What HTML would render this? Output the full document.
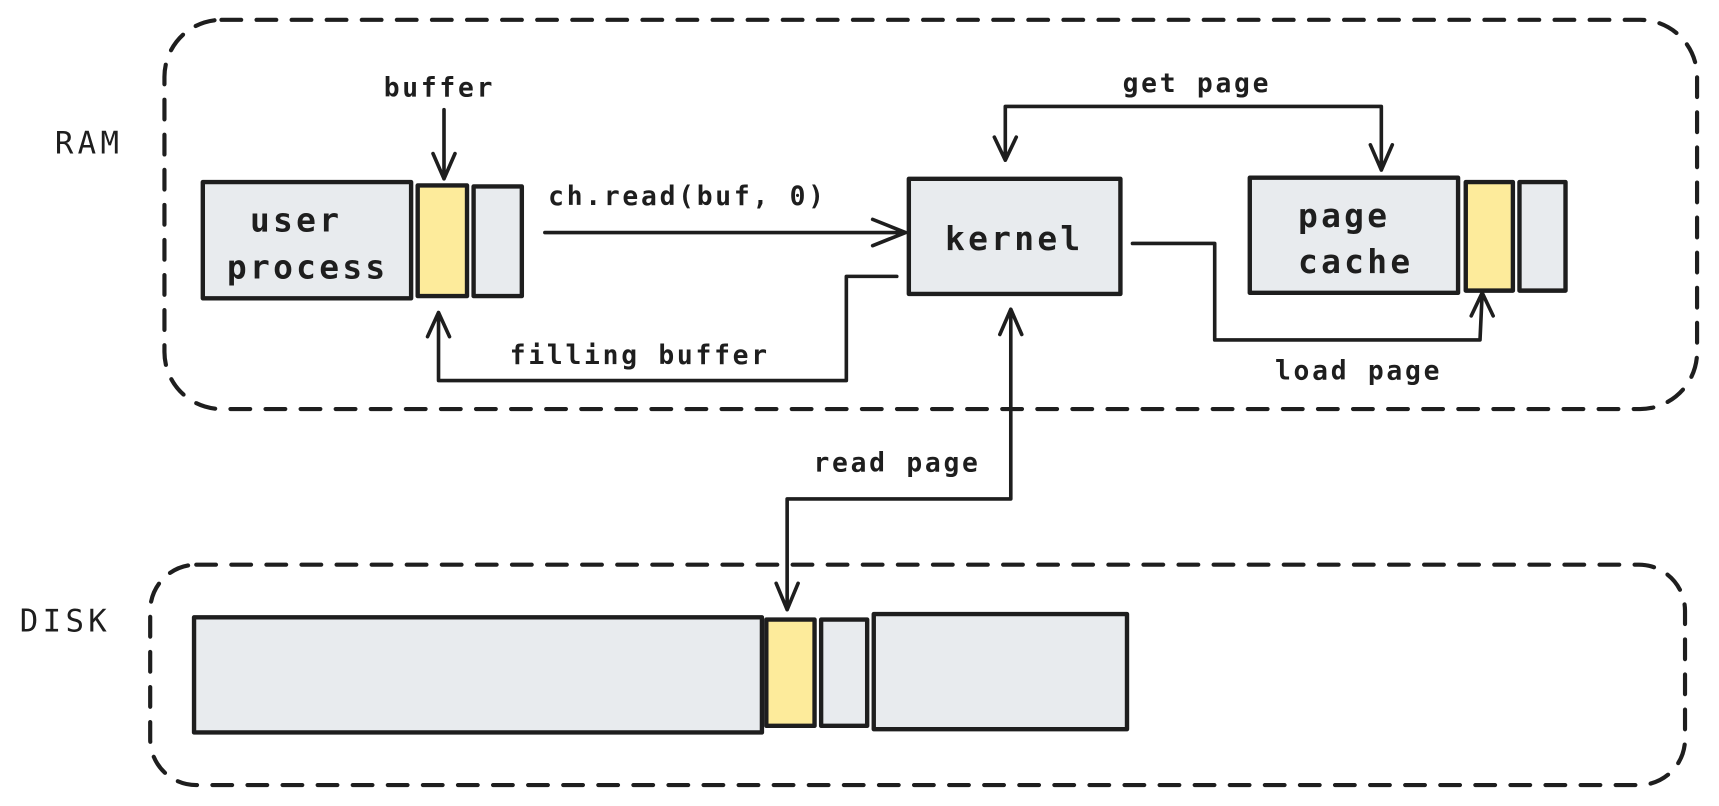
<!DOCTYPE html>
<html><head><meta charset="utf-8"><style>
html,body{margin:0;padding:0;background:#fff;width:1719px;height:806px;overflow:hidden}
svg{display:block}
.m{font-family:"DejaVu Sans Mono",monospace;font-size:24px;font-weight:bold;fill:#1e1e1e;letter-spacing:2.5px}
.b{font-family:"DejaVu Sans Mono",monospace;font-size:30px;font-weight:bold;fill:#1e1e1e;letter-spacing:3px}
</style></head><body>
<svg width="1719" height="806" viewBox="0 0 1568 735" xmlns="http://www.w3.org/2000/svg">
<g fill="none" stroke="#1e1e1e" stroke-width="3.8" stroke-dasharray="18 14" stroke-linecap="round">
<rect x="150" y="18" width="1398" height="355" rx="52"/>
<rect x="137" y="515" width="1400" height="201" rx="42"/>
</g>
<text x="50" y="140" style="font-family:'DejaVu Sans Mono',monospace;font-size:28px;fill:#1e1e1e;letter-spacing:4px">RAM</text>
<text x="18" y="576" style="font-family:'DejaVu Sans Mono',monospace;font-size:28px;fill:#1e1e1e;letter-spacing:4px">DISK</text>
<g stroke="#1e1e1e" stroke-width="4" stroke-linejoin="round">
<rect x="185" y="166" width="190" height="106" fill="#e8ebee"/>
<rect x="381" y="169" width="45" height="101" fill="#fdeb9b"/>
<rect x="432" y="170" width="44" height="100" fill="#e8ebee"/>
<rect x="829" y="163" width="193" height="105" fill="#e8ebee"/>
<rect x="1140" y="162" width="190" height="105" fill="#e8ebee"/>
<rect x="1337" y="166" width="43" height="99" fill="#fdeb9b"/>
<rect x="1386" y="166" width="42" height="99" fill="#e8ebee"/>
<rect x="177" y="563" width="518" height="105" fill="#e8ebee"/>
<rect x="699" y="565" width="44" height="97" fill="#fdeb9b"/>
<rect x="749" y="565" width="42" height="97" fill="#e8ebee"/>
<rect x="797" y="560" width="231" height="105" fill="#e8ebee"/>
</g>
<g class="b">
<text x="228" y="211">user</text><text x="207" y="254">process</text>
<text x="862" y="228">kernel</text>
<text x="1184" y="207">page</text><text x="1184" y="249">cache</text>
</g>
<g fill="none" stroke="#1e1e1e" stroke-width="3.3" stroke-linecap="round" stroke-linejoin="round">
<path d="M405 100 V163 M395 140 L405 163 L415 140"/>
<path d="M497 212 H826 M796 200 L826 212 L796 224"/>
<path d="M818 252 H772 V347 H400 V285 M390 307 L400 285 L410 307"/>
<path d="M917 146 V97 H1260 V155 M907 125 L917 146 L927 125 M1250 132 L1260 155 L1270 132"/>
<path d="M1033 222 H1108 V310 H1350 L1352 267 M1342 288 L1352 267 L1362 288"/>
<path d="M922 282 V455 H718 V556 M912 305 L922 282 L932 305 M708 532 L718 556 L728 532"/>
</g>
<g class="m">
<text x="350" y="88">buffer</text>
<text x="500" y="187">ch.read(buf, 0)</text>
<text x="465" y="332">filling buffer</text>
<text x="1024" y="84">get page</text>
<text x="1163" y="346">load page</text>
<text x="742" y="430">read page</text>
</g>
</svg>
</body></html>
